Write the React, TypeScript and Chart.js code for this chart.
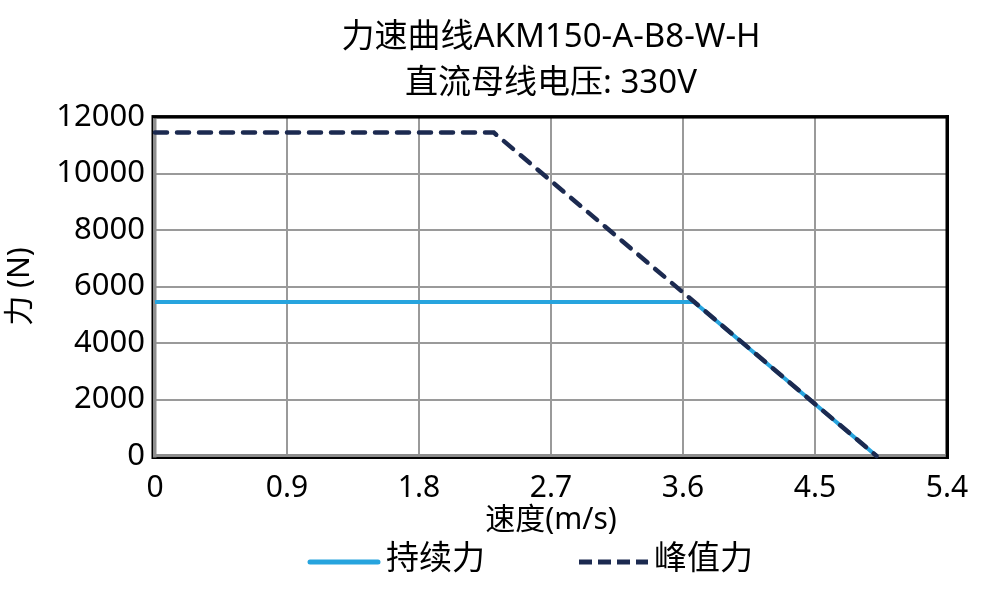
import { useEffect, useRef } from "react";
import { Chart, registerables, ChartOptions, Plugin } from "chart.js";

Chart.register(...registerables);

const FONT = "'Noto Sans', 'Noto Sans CJK SC', sans-serif";

// chart data
const titleLines = ["力速曲线AKM150-A-B8-W-H", "直流母线电压: 330V"];
const seriesNames = ["持续力", "峰值力"];
const continuousSpeed = [0, 3.675, 4.92];
const continuousForce = [5450, 5450, 0];
const peakSpeed = [0, 2.31, 4.92];
const peakForce = [11450, 11450, 0];
const xTicks = [0, 0.9, 1.8, 2.7, 3.6, 4.5, 5.4];
const yTicks = [0, 2000, 4000, 6000, 8000, 10000, 12000];

const CONT_COLOR = "#27a4de";
const PEAK_COLOR = "#1c2a50";

// thick frame around the plot area (black top/right, grey left/bottom)
const framePlugin: Plugin = {
  id: "frame",
  beforeDatasetsDraw(chart) {
    const { ctx, chartArea: a } = chart;
    ctx.save();
    ctx.fillStyle = "#000";
    ctx.fillRect(a.left - 2, a.top - 2, a.right - a.left + 4, 3.5);
    ctx.fillRect(a.right - 1.5, a.top - 2, 3.5, a.bottom - a.top + 5);
    ctx.fillRect(a.left - 3, a.bottom + 1, a.right - a.left + 5, 2);
    ctx.fillRect(a.left - 3.5, a.top - 2, 1.5, a.bottom - a.top + 5);
    ctx.fillStyle = "#8e8e8e";
    ctx.fillRect(a.left - 2, a.top + 1.5, 3.5, a.bottom - a.top);
    ctx.fillRect(a.left - 2, a.bottom - 2, a.right - a.left + 0.5, 3);
    ctx.restore();
  },
};

const App = () => {
  const canvasRef = useRef<HTMLCanvasElement>(null);

  useEffect(() => {
    if (!canvasRef.current) return;
    const ctx = canvasRef.current.getContext("2d");
    if (!ctx) return;

    const options: ChartOptions<"line"> = {
      animation: false,
      responsive: false,
      layout: { padding: { left: 0, right: 48, top: 0, bottom: 71 } },
      scales: {
        x: {
          type: "linear",
          min: 0,
          max: 5.4,
          afterBuildTicks: (scale) => {
            scale.ticks = xTicks.map((v) => ({ value: v }));
          },
          afterFit: (scale) => {
            scale.height = 79;
          },
          grid: { color: "#9a9a9a", lineWidth: 2, drawTicks: false },
          border: { display: false },
          ticks: {
            padding: 17,
            color: "#000",
            maxRotation: 0,
            font: { family: FONT, size: 30, lineHeight: 1 },
            callback: (v) => String(v),
          },
          title: {
            display: true,
            text: "速度(m/s)",
            color: "#000",
            padding: { top: 2, bottom: 0 },
            font: { family: FONT, size: 30, lineHeight: 1 },
          },
        },
        y: {
          type: "linear",
          min: 0,
          max: 12000,
          afterBuildTicks: (scale) => {
            scale.ticks = yTicks.map((v) => ({ value: v }));
          },
          afterFit: (scale) => {
            scale.width = 155;
          },
          grid: { color: "#9a9a9a", lineWidth: 2, drawTicks: false },
          border: { display: false },
          ticks: {
            padding: 10,
            color: "#000",
            font: { family: FONT, size: 31, lineHeight: 1 },
            callback: (v) => String(v),
          },
          title: {
            display: true,
            text: "力 (N)",
            color: "#000",
            padding: { top: 2, bottom: 0 },
            font: { family: FONT, size: 30, lineHeight: 1.2 },
          },
        },
      },
      plugins: {
        legend: { display: false },
        tooltip: { enabled: false },
        title: {
          display: true,
          fullSize: false,
          text: titleLines,
          color: "#000",
          padding: { top: 15, bottom: 11 },
          font: { family: FONT, size: 33, weight: "normal", lineHeight: 1.38 },
        },
      },
    };

    const chart = new Chart(ctx, {
      type: "line",
      data: {
        datasets: [
          {
            // peak first so it is drawn over the continuous line
            label: seriesNames[1],
            data: peakSpeed.map((x, i) => ({ x, y: peakForce[i] })),
            borderColor: PEAK_COLOR,
            borderWidth: 4.5,
            borderDash: [12, 10],
            borderCapStyle: "round",
            pointRadius: 0,
            tension: 0,
            clip: 4,
          },
          {
            label: seriesNames[0],
            data: continuousSpeed.map((x, i) => ({ x, y: continuousForce[i] })),
            borderColor: CONT_COLOR,
            borderWidth: 4,
            pointRadius: 0,
            tension: 0,
            clip: 4,
          },
        ],
      },
      options,
      plugins: [framePlugin],
    });

    return () => {
      chart.destroy();
    };
  }, []);

  const legendText = {
    position: "absolute" as const,
    top: 536,
    fontFamily: FONT,
    fontSize: 33,
    lineHeight: "42px",
    color: "#000",
    whiteSpace: "nowrap" as const,
  };

  return (
    <div style={{ position: "absolute", left: 0, top: 0, width: 995, height: 606, background: "#fff" }}>
      <canvas ref={canvasRef} width={995} height={606} style={{ display: "block" }}></canvas>
      <svg width={995} height={606} style={{ position: "absolute", left: 0, top: 0, pointerEvents: "none" }}>
        <line x1={310} y1={562} x2={378} y2={562} stroke={CONT_COLOR} strokeWidth={5} strokeLinecap="round" />
        <line x1={579} y1={562} x2={648} y2={562} stroke={PEAK_COLOR} strokeWidth={5} strokeDasharray="13 6" />
      </svg>
      <div style={{ ...legendText, left: 386 }}>{seriesNames[0]}</div>
      <div style={{ ...legendText, left: 654 }}>{seriesNames[1]}</div>
    </div>
  );
};

export default App;
